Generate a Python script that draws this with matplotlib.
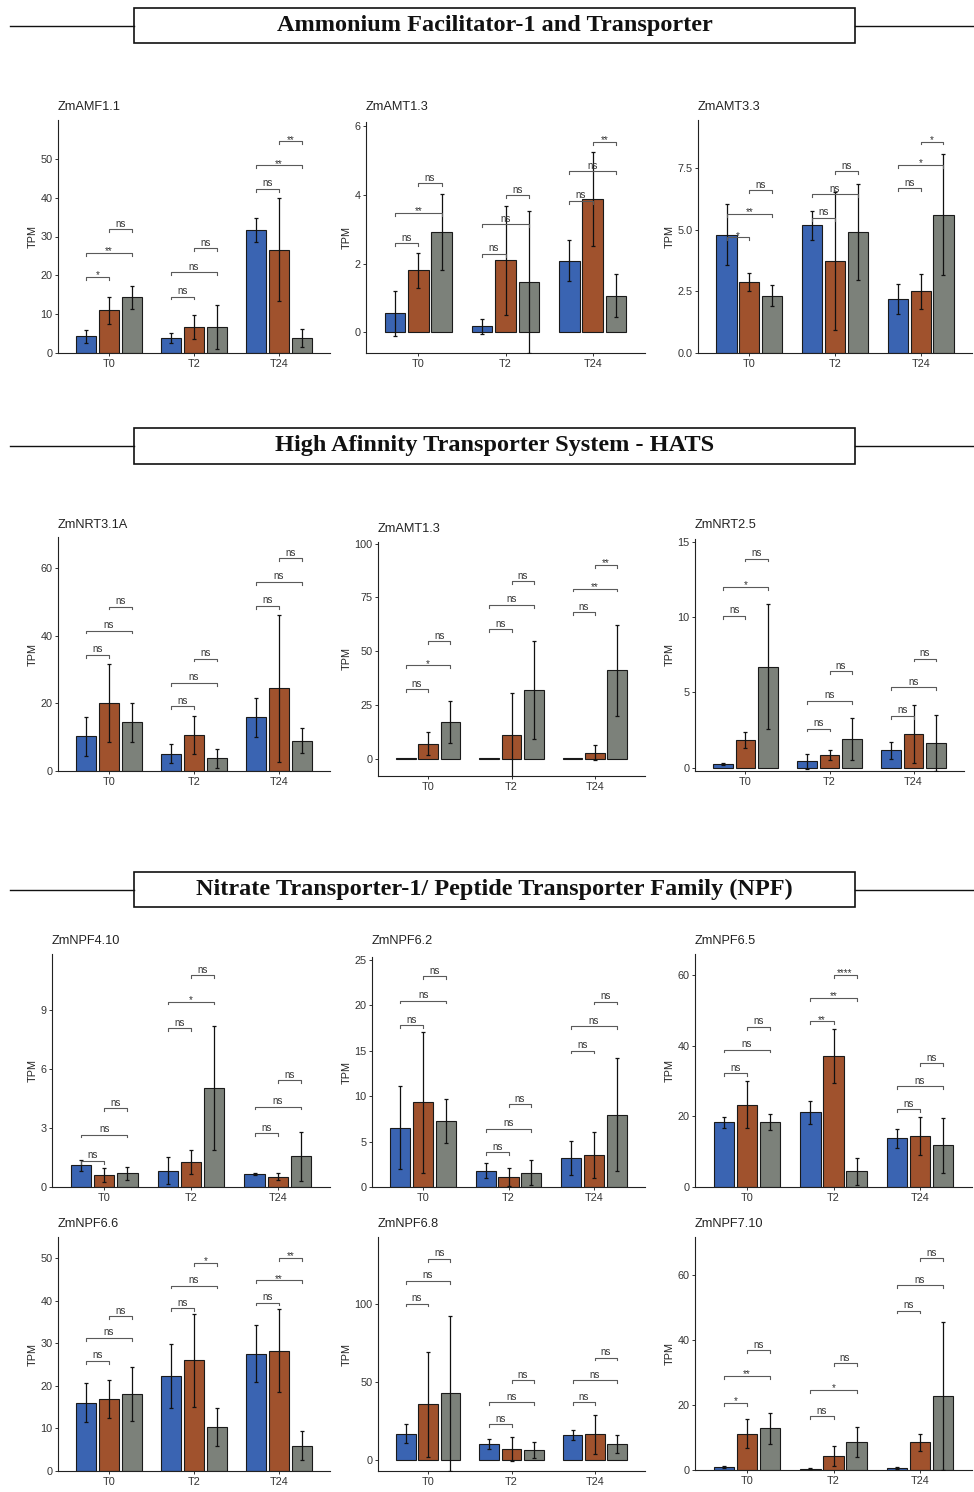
import matplotlib
matplotlib.use('Agg')
import matplotlib.pyplot as plt
from matplotlib.patches import Rectangle
from matplotlib.lines import Line2D

plt.rcParams['font.family'] = ['Liberation Sans', 'DejaVu Sans']

W, H = 974, 1492
fig = plt.figure(figsize=(W / 100, H / 100), dpi=100)

timepoints = ['T0', 'T2', 'T24']
colors = ['#3A64B2', '#A0522D', '#7C817A']

section_titles = ['Ammonium Facilitator-1 and Transporter',
                  'High Afinnity Transporter System - HATS',
                  'Nitrate Transporter-1/ Peptide Transporter Family (NPF)']

gene_names = ['ZmAMF1.1', 'ZmAMT1.3', 'ZmAMT3.3',
              'ZmNRT3.1A', 'ZmAMT1.3', 'ZmNRT2.5',
              'ZmNPF4.10', 'ZmNPF6.2', 'ZmNPF6.5',
              'ZmNPF6.6', 'ZmNPF6.8', 'ZmNPF7.10']

# means ordered T0(3 genotypes), T2(3), T24(3); err = half-width of error bar
amf11_mean = [4.3, 11.0, 14.3, 3.9, 6.6, 6.8, 31.6, 26.6, 3.9]
amf11_err = [1.6, 3.5, 3.05, 1.3, 3.1, 5.65, 3.1, 13.3, 2.25]
amf11_sig = [19.5, 25.7, 31.9, 14.5, 20.8, 27.0, 42.3, 48.3, 54.5]
amf11_lbl = ['*', '**', 'ns', 'ns', 'ns', 'ns', 'ns', '**', '**']

amt13a_mean = [0.55, 1.8, 2.91, 0.17, 2.1, 1.46, 2.08, 3.88, 1.06]
amt13a_err = [0.66, 0.51, 1.11, 0.22, 1.59, 2.07, 0.6, 1.37, 0.63]
amt13a_sig = [2.6, 3.48, 4.34, 2.28, 3.14, 4.0, 3.83, 4.7, 5.55]
amt13a_lbl = ['ns', '**', 'ns', 'ns', 'ns', 'ns', 'ns', 'ns', '**']

amt33_mean = [4.81, 2.88, 2.32, 5.19, 3.74, 4.92, 2.19, 2.5, 5.61]
amt33_err = [1.25, 0.38, 0.43, 0.59, 2.81, 1.94, 0.6, 0.71, 2.45]
amt33_sig = [4.69, 5.65, 6.6, 5.49, 6.45, 7.39, 6.69, 7.64, 8.58]
amt33_lbl = ['*', '**', 'ns', 'ns', 'ns', 'ns', 'ns', '*', '*']

nrt31a_mean = [10.3, 20.2, 14.4, 5.1, 10.6, 3.8, 15.9, 24.5, 9.0]
nrt31a_err = [5.75, 11.5, 5.75, 2.8, 5.7, 2.85, 5.75, 21.7, 3.65]
nrt31a_sig = [34.4, 41.6, 48.7, 19.2, 26.1, 33.3, 48.9, 56.0, 63.0]
nrt31a_lbl = ['ns'] * 9

amt13b_mean = [0.15, 7.0, 17.0, 0.15, 10.9, 31.9, 0.15, 2.8, 41.2]
amt13b_err = [0.0, 5.55, 9.75, 0.0, 19.5, 23.0, 0.0, 3.5, 21.2]
amt13b_sig = [32.4, 43.4, 54.6, 60.3, 71.5, 82.5, 68.2, 79.1, 90.0]
amt13b_lbl = ['ns', '*', 'ns', 'ns', 'ns', 'ns', 'ns', '**', '**']

nrt25_mean = [0.22, 1.84, 6.7, 0.42, 0.87, 1.93, 1.15, 2.22, 1.66]
nrt25_err = [0.07, 0.55, 4.15, 0.52, 0.33, 1.39, 0.55, 1.94, 1.87]
nrt25_sig = [10.1, 12.0, 13.9, 2.6, 4.45, 6.4, 3.45, 5.35, 7.25]
nrt25_lbl = ['ns', '*', 'ns', 'ns', 'ns', 'ns', 'ns', 'ns', 'ns']

npf410_mean = [1.1, 0.63, 0.7, 0.82, 1.28, 5.03, 0.66, 0.53, 1.56]
npf410_err = [0.3, 0.36, 0.32, 0.69, 0.62, 3.17, 0.07, 0.17, 1.26]
npf410_sig = [1.33, 2.67, 4.0, 8.1, 9.45, 10.8, 2.74, 4.1, 5.44]
npf410_lbl = ['ns', 'ns', 'ns', 'ns', '*', 'ns', 'ns', 'ns', 'ns']

npf62_mean = [6.5, 9.32, 7.27, 1.8, 1.06, 1.57, 3.18, 3.55, 7.97]
npf62_err = [4.57, 7.75, 2.42, 0.85, 1.0, 1.38, 1.85, 2.55, 6.25]
npf62_sig = [17.8, 20.5, 23.2, 3.8, 6.4, 9.1, 15.0, 17.7, 20.4]
npf62_lbl = ['ns'] * 9

npf65_mean = [18.3, 23.3, 18.4, 21.2, 37.1, 4.44, 13.8, 14.4, 11.8]
npf65_err = [1.55, 6.65, 2.3, 3.25, 7.6, 3.8, 2.65, 5.3, 7.8]
npf65_sig = [32.3, 38.9, 45.4, 46.9, 53.5, 60.1, 22.0, 28.6, 35.1]
npf65_lbl = ['ns', 'ns', 'ns', '**', '**', '****', 'ns', 'ns', 'ns']

npf66_mean = [16.1, 16.9, 18.1, 22.4, 26.0, 10.3, 27.6, 28.3, 5.97]
npf66_err = [4.6, 4.4, 6.4, 7.55, 10.85, 4.4, 6.6, 9.8, 3.35]
npf66_sig = [25.9, 31.3, 36.4, 38.3, 43.6, 48.9, 39.6, 44.8, 50.0]
npf66_lbl = ['ns', 'ns', 'ns', 'ns', 'ns', '*', 'ns', '**', '**']

npf68_mean = [16.7, 35.3, 42.4, 10.1, 6.85, 6.4, 15.8, 16.1, 10.3]
npf68_err = [6.25, 33.75, 49.5, 3.35, 7.65, 5.15, 3.3, 12.45, 5.75]
npf68_sig = [100.0, 114.5, 128.7, 22.5, 36.8, 50.9, 36.8, 50.9, 65.3]
npf68_lbl = ['ns'] * 9

npf710_mean = [0.9, 11.2, 12.8, 0.4, 4.4, 8.7, 0.7, 8.5, 22.9]
npf710_err = [0.35, 4.45, 4.65, 0.2, 3.1, 4.65, 0.3, 2.7, 22.85]
npf710_sig = [20.7, 28.9, 36.9, 16.6, 24.7, 32.9, 49.1, 57.0, 65.2]
npf710_lbl = ['*', '**', 'ns', 'ns', '*', 'ns', 'ns', 'ns', 'ns']

panels = [
    (amf11_mean, amf11_err, amf11_sig, amf11_lbl),
    (amt13a_mean, amt13a_err, amt13a_sig, amt13a_lbl),
    (amt33_mean, amt33_err, amt33_sig, amt33_lbl),
    (nrt31a_mean, nrt31a_err, nrt31a_sig, nrt31a_lbl),
    (amt13b_mean, amt13b_err, amt13b_sig, amt13b_lbl),
    (nrt25_mean, nrt25_err, nrt25_sig, nrt25_lbl),
    (npf410_mean, npf410_err, npf410_sig, npf410_lbl),
    (npf62_mean, npf62_err, npf62_sig, npf62_lbl),
    (npf65_mean, npf65_err, npf65_sig, npf65_lbl),
    (npf66_mean, npf66_err, npf66_sig, npf66_lbl),
    (npf68_mean, npf68_err, npf68_sig, npf68_lbl),
    (npf710_mean, npf710_err, npf710_sig, npf710_lbl),
]

# layout (pixels): left, right, top, bottom, ylim, yticks, title y
layout = [
    (58, 330, 120, 353, (0, 60), [0, 10, 20, 30, 40, 50], 107),
    (366, 645, 122, 353, (-0.61, 6.13), [0, 2, 4, 6], 107),
    (698, 972, 120, 353, (0, 9.46), [0.0, 2.5, 5.0, 7.5], 107),
    (58, 330, 537, 771, (0, 69.3), [0, 20, 40, 60], 525),
    (378, 645, 542, 776, (-8.1, 100.8), [0, 25, 50, 75, 100], 529),
    (695, 964, 539, 771, (-0.22, 15.2), [0, 5, 10, 15], 525),
    (52, 330, 954, 1187, (0, 11.87), [0, 3, 6, 9], 941),
    (372, 645, 957, 1187, (0, 25.3), [0, 5, 10, 15, 20, 25], 941),
    (695, 972, 954, 1187, (0, 66), [0, 20, 40, 60], 941),
    (58, 330, 1237, 1471, (0, 55), [0, 10, 20, 30, 40, 50], 1224),
    (378, 645, 1237, 1471, (-7.3, 142.6), [0, 50, 100], 1224),
    (695, 972, 1237, 1470, (0, 71.8), [0, 20, 40, 60], 1224),
]

pairs = [(0, 1), (0, 2), (1, 2)]
offsets = [-0.267, 0.0, 0.267]
bw = 0.235

for k, ((mean, err, sig, lbl), (L, R, T, B, ylim, yticks, ty)) in enumerate(zip(panels, layout)):
    ax = fig.add_axes([L / W, 1 - B / H, (R - L) / W, (B - T) / H])
    span = ylim[1] - ylim[0]
    for g in range(3):
        for s in range(3):
            idx = g * 3 + s
            x = g + 1 + offsets[s]
            ax.bar(x, mean[idx], width=bw, color=colors[s], edgecolor='#1a1a1a',
                   linewidth=0.8, zorder=2)
            if err[idx] > 0:
                ax.errorbar(x, mean[idx], yerr=err[idx], fmt='none', ecolor='#111111',
                            elinewidth=0.9, capsize=1.3, capthick=0.9, zorder=3)
        # significance brackets
        tick = 0.012 * span
        for p, (i, j) in enumerate(pairs):
            y = sig[g * 3 + p]
            x1 = g + 1 + offsets[i]
            x2 = g + 1 + offsets[j]
            ax.plot([x1, x1, x2, x2], [y - tick, y, y, y - tick], color='#5a5a5a',
                    linewidth=0.8, zorder=4, clip_on=False)
            lab = lbl[g * 3 + p]
            if lab == 'ns':
                ax.text((x1 + x2) / 2, y + 0.002 * span, lab, ha='center', va='bottom',
                        fontsize=7, color='#333333')
            else:
                ax.text((x1 + x2) / 2, y - 0.014 * span, lab, ha='center', va='bottom',
                        fontsize=7, color='#333333')
    ax.set_xlim(0.4, 3.6)
    ax.set_ylim(*ylim)
    ax.set_xticks([1, 2, 3])
    ax.set_xticklabels(timepoints)
    ax.set_yticks(yticks)
    if k == 2:
        ax.set_yticklabels(['%.1f' % v for v in yticks])
    ax.tick_params(axis='both', labelsize=7.8, length=2.5, width=0.7,
                   colors='#333333', pad=1.5)
    ax.set_ylabel('TPM', fontsize=7.8, color='#222222', labelpad=2)
    for side in ['top', 'right']:
        ax.spines[side].set_visible(False)
    for side in ['left', 'bottom']:
        ax.spines[side].set_linewidth(0.8)
        ax.spines[side].set_color('#222222')
    ax.patch.set_alpha(0)
    fig.text(L / W, 1 - ty / H, gene_names[k], fontsize=9.2, va='center', ha='left',
             color='#222222')

# section headers
header_boxes = [(8, 43), (428, 464), (872, 907)]
for title, (yt, yb) in zip(section_titles, header_boxes):
    rect = Rectangle((134 / W, 1 - yb / H), (855 - 134) / W, (yb - yt) / H,
                     transform=fig.transFigure, fill=False, edgecolor='#111111',
                     linewidth=1.2)
    fig.patches.append(rect)
    ym = 1 - (yt + yb) / 2 / H
    fig.lines.append(Line2D([10 / W, 134 / W], [ym, ym], transform=fig.transFigure,
                            color='#111111', linewidth=1.0))
    fig.lines.append(Line2D([855 / W, 974 / W], [ym, ym], transform=fig.transFigure,
                            color='#111111', linewidth=1.0))
    fig.text(494.5 / W, ym, title, ha='center', va='center', fontsize=17.5,
             fontweight='bold', family=['Liberation Serif', 'DejaVu Serif'],
             color='#111111')

fig.savefig('out.png', dpi=100, facecolor='white')
